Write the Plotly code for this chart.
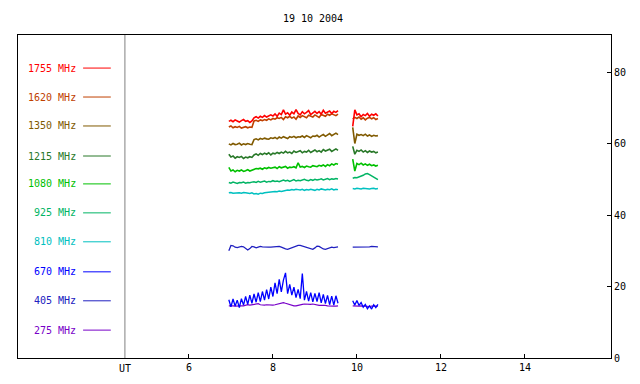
import plotly.graph_objects as go

TITLE = "19 10 2004"
FREQS = ["1755 MHz", "1620 MHz", "1350 MHz", "1215 MHz", "1080 MHz",
         "925 MHz", "810 MHz", "670 MHz", "405 MHz", "275 MHz"]
COLORS = ["#ff0000", "#c04000", "#805a00", "#287828", "#00c000",
          "#00b464", "#00c0c0", "#0000ff", "#2020c0", "#7800c8"]
LEGEND_Y = [81.1, 73.0, 64.9, 56.5, 48.7, 40.6, 32.5, 24.1, 16.0, 7.8]
X_TICKS = [6, 8, 10, 12, 14]
Y_TICKS = [0, 20, 40, 60, 80]

# sampling times (UT hours)
T1 = [6.95, 7.00, 7.05, 7.10, 7.15, 7.20, 7.25, 7.30, 7.35, 7.40, 7.45, 7.50,
      7.55, 7.60, 7.65, 7.70, 7.75, 7.80, 7.85, 7.90, 7.95, 8.00, 8.05, 8.10,
      8.15, 8.20, 8.25, 8.30, 8.35, 8.40, 8.45, 8.50, 8.55, 8.60, 8.65, 8.70,
      8.75, 8.80, 8.85, 8.90, 8.95, 9.00, 9.05, 9.10, 9.15, 9.20, 9.25, 9.30,
      9.35, 9.40, 9.45, 9.50, 9.55]
T2 = [9.90, 9.95, 10.00, 10.05, 10.10, 10.15, 10.20, 10.25, 10.30, 10.35,
      10.40, 10.45, 10.50]

F1755_A = [66.2, 66.5, 66.1, 66.6, 66.3, 66.0, 66.4, 66.7, 66.2, 66.4, 65.9, 66.3,
           67.2, 67.5, 67.1, 67.6, 67.3, 67.8, 67.4, 67.6, 68.0, 67.7, 68.3, 67.6,
           68.5, 68.1, 69.4, 68.2, 68.6, 67.9, 68.8, 68.3, 69.5, 68.4, 68.0, 68.9,
           68.3, 68.7, 69.2, 68.1, 68.6, 69.0, 68.4, 68.9, 68.2, 69.3, 68.5, 68.8,
           69.1, 68.4, 69.0, 68.7, 69.2]
F1755_B = [64.8, 69.4, 68.0, 68.3, 67.5, 68.1, 67.8, 68.4, 67.6, 68.2, 67.9, 68.3, 67.7]

F1620_A = [64.6, 64.9, 64.4, 64.7, 64.5, 64.8, 64.3, 64.6, 64.7, 64.4, 64.6, 64.5,
           66.3, 66.5, 66.2, 66.6, 66.4, 66.7, 66.5, 66.9, 66.6, 67.0, 66.8, 67.2,
           67.0, 67.3, 66.7, 67.5, 67.2, 67.6, 67.1, 67.4, 66.8, 67.7, 67.3, 67.8,
           67.5, 67.2, 67.9, 67.6, 67.4, 68.0, 67.7, 67.3, 68.1, 67.8, 67.6, 68.2,
           67.9, 68.3, 68.0, 67.8, 68.2]
F1620_B = [66.9, 67.3, 67.0, 67.4, 66.8, 67.2, 66.6, 67.1, 67.3, 66.9, 67.2, 66.7, 67.0]

F1350_A = [59.9, 59.6, 60.0, 59.7, 59.8, 60.1, 59.6, 59.9, 59.7, 60.0, 59.8, 59.7,
           61.1, 61.3, 61.0, 61.4, 61.2, 61.5, 61.3, 61.2, 61.6, 61.4, 61.7, 61.3,
           61.8, 61.5, 61.9, 61.6, 61.4, 61.9, 61.7, 62.0, 61.6, 61.9, 61.8, 62.1,
           61.7, 62.2, 61.9, 61.6, 62.1, 62.0, 62.3, 61.8, 62.2, 62.5, 62.0, 62.3,
           62.8, 62.2, 62.6, 62.9, 62.5]
F1350_B = [64.5, 60.0, 62.6, 62.3, 62.5, 62.2, 62.6, 62.1, 62.4, 62.0, 62.3, 62.1, 62.2]

F1215_A = [57.0, 56.2, 56.5, 55.9, 56.3, 56.1, 56.4, 55.8, 56.2, 56.0, 56.3, 56.1,
           56.8, 57.1, 56.7, 57.2, 56.9, 57.3, 57.0, 57.4, 56.8, 57.3, 57.1, 57.5,
           57.2, 57.6, 57.3, 57.8, 57.4, 57.6, 57.2, 57.9, 57.5, 57.7, 58.0, 57.4,
           57.8, 57.6, 58.1, 57.5, 57.9, 58.2, 57.7, 58.0, 57.6, 58.3, 57.9, 58.1,
           58.4, 57.8, 58.2, 58.5, 58.1]
F1215_B = [59.2, 57.0, 58.1, 57.8, 58.2, 57.6, 58.0, 57.5, 57.9, 57.6, 57.8, 57.4, 57.6]

F1080_A = [53.3, 52.3, 52.6, 52.1, 52.5, 52.3, 52.6, 52.2, 52.4, 52.7, 52.3, 52.5,
           52.8, 53.0, 52.9, 53.1, 52.8, 53.2, 53.0, 53.3, 53.1, 53.2, 53.4, 53.0,
           53.5, 53.2, 53.3, 53.6, 53.1, 53.4, 53.3, 53.5, 53.2, 54.6, 53.4, 53.6,
           53.3, 53.7, 53.5, 53.4, 53.8, 53.6, 53.5, 53.9, 53.7, 54.0, 53.6, 54.1,
           53.8, 54.3, 54.0, 54.4, 54.2]
F1080_B = [55.6, 52.3, 54.4, 54.1, 54.5, 54.0, 54.3, 53.9, 54.2, 53.8, 54.0, 53.7, 53.9]

F925_A = [49.1, 48.9, 49.2, 49.0, 48.8, 49.1, 49.0, 49.2, 48.9, 49.1, 49.0, 49.2,
          49.3, 49.1, 49.4, 49.2, 49.3, 49.5, 49.2, 49.4, 49.3, 49.6, 49.4, 49.5,
          49.3, 49.6, 49.8, 49.5, 49.7, 49.4, 49.6, 49.9, 49.5, 49.7, 49.6, 49.8,
          50.0, 49.7, 49.6, 49.9, 49.7, 50.0, 49.8, 49.9, 50.1, 49.8, 50.0, 50.2,
          49.9, 50.1, 50.0, 50.2, 50.1]
F925_B = [50.3, 50.5, 50.4, 50.6, 50.8, 51.1, 51.5, 51.6, 51.3, 50.9, 50.5, 50.1, 49.9]

F810_A = [46.2, 46.3, 46.1, 46.2, 46.3, 46.2, 46.1, 46.3, 46.2, 46.1, 46.0, 46.2,
          45.9, 46.0, 45.8, 46.1, 46.0, 46.2, 46.3, 46.4, 46.3, 46.5, 46.6, 46.5,
          46.7, 46.6, 46.8, 46.9, 47.0, 46.9, 47.1, 47.0, 47.2, 47.1, 47.0, 47.2,
          46.9, 47.1, 47.0, 47.2, 47.1, 46.9, 47.2, 47.0, 47.3, 47.1, 47.0, 47.2,
          47.1, 47.3, 47.0, 47.2, 47.1]
F810_B = [47.4, 47.3, 47.5, 47.4, 47.3, 47.5, 47.4, 47.5, 47.3, 47.4, 47.5, 47.3, 47.4]

F670_A = [16.3, 14.3, 16.5, 14.5, 16.2, 14.1, 16.6, 14.8, 17.2, 15.0, 17.6, 15.3,
          17.9, 15.6, 18.3, 15.8, 18.6, 16.2, 19.1, 16.5, 19.8, 17.2, 21.0, 18.0,
          22.0, 18.5, 21.8, 23.8, 18.0, 20.6, 17.6, 19.8, 16.9, 19.2, 16.6, 23.6,
          16.2, 18.6, 15.9, 18.3, 15.7, 18.1, 15.8, 18.3, 15.4, 17.8, 15.2, 17.5,
          14.9, 17.3, 14.8, 17.4, 15.3]
F670_B = [16.0, 14.8, 16.1, 14.7, 15.5, 14.2, 15.0, 13.8, 14.6, 13.7, 14.9, 14.1, 15.0]

F405_A = [30.0, 31.5, 31.4, 31.0, 30.9, 31.1, 31.2, 31.1, 30.6, 30.2, 30.6, 31.2,
          31.1, 30.8, 31.0, 31.2, 31.1, 31.0, 31.1, 31.0, 31.0, 31.1, 31.0, 31.2,
          31.2, 31.0, 30.7, 30.5, 30.4, 30.6, 30.8, 31.1, 31.4, 31.5, 31.5, 31.3,
          31.0, 30.8, 30.6, 30.4, 30.4, 30.8, 31.3, 31.2, 30.8, 30.5, 30.4, 30.6,
          30.9, 31.0, 30.9, 31.1, 31.1]
F405_B = [31.0, 31.0, 30.9, 31.0, 31.0, 30.9, 31.0, 31.1, 31.1, 31.2, 31.2, 31.1, 31.1]

F275_A = [14.6, 14.7, 14.6, 14.5, 14.6, 14.7, 14.6, 14.6, 14.8, 14.9, 14.8, 14.9,
          15.1, 15.3, 15.2, 14.9, 14.8, 14.8, 14.9, 14.8, 14.7, 14.8, 14.9, 15.0,
          15.2, 15.4, 15.5, 15.3, 15.1, 14.9, 14.7, 14.6, 14.6, 14.8, 14.9, 15.0,
          15.1, 15.0, 14.9, 15.0, 15.1, 14.9, 14.8, 14.7, 14.7, 14.8, 14.7, 14.6,
          14.5, 14.6, 14.5, 14.5, 14.6]
F275_B = [14.6, 14.5, 14.6, 14.5, 14.6, 14.5, 14.4, 14.5, 14.4, 14.5, 14.6, 14.5, 14.5]

SERIES_A = [F1755_A, F1620_A, F1350_A, F1215_A, F1080_A, F925_A, F810_A, F670_A, F405_A, F275_A]
SERIES_B = [F1755_B, F1620_B, F1350_B, F1215_B, F1080_B, F925_B, F810_B, F670_B, F405_B, F275_B]
WIDTHS = [1.6, 1.6, 1.6, 1.6, 1.6, 1.5, 1.5, 1.3, 1.3, 1.2]

# axes geometry in data units
X_MIN, X_MAX = 1.93, 16.05
Y_MIN, Y_MAX = 0, 90.35
DIVIDER_X = 4.476
LEG_X0, LEG_X1 = 3.48, 4.14
LEG_TEXT_X = 3.37

FONT = "DejaVu Sans Mono, monospace"

fig = go.Figure()

for i in reversed(range(len(FREQS))):
    xs = T1 + [None] + T2
    ys = SERIES_A[i] + [None] + SERIES_B[i]
    fig.add_trace(go.Scatter(x=xs, y=ys, mode="lines", connectgaps=False,
                             line=dict(color=COLORS[i], width=WIDTHS[i]),
                             showlegend=False, hoverinfo="skip"))

for i, (lab, col, ly) in enumerate(zip(FREQS, COLORS, LEGEND_Y)):
    fig.add_trace(go.Scatter(x=[LEG_X0, LEG_X1], y=[ly, ly], mode="lines",
                             line=dict(color=col, width=1),
                             showlegend=False, hoverinfo="skip"))
    fig.add_annotation(x=LEG_TEXT_X, y=ly, text=lab, showarrow=False,
                       xanchor="right", yanchor="middle",
                       font=dict(family=FONT, size=10, color=col))

fig.add_shape(type="line", xref="x", yref="paper", x0=DIVIDER_X, x1=DIVIDER_X,
              y0=0, y1=1, line=dict(color="#808080", width=1))

fig.add_annotation(x=DIVIDER_X, xref="x", y=0, yref="paper", text="UT",
                   showarrow=False, xanchor="center", yanchor="top", yshift=-3,
                   font=dict(family=FONT, size=10, color="black"))

# page body has an 8px margin, so the figure is 8px smaller than the window
fig.update_layout(
    width=632, height=376,
    margin=dict(l=10, r=29, t=27, b=26),
    paper_bgcolor="white", plot_bgcolor="white",
    title=dict(text=TITLE, x=0.4826, xanchor="center", y=0.971, yanchor="middle",
               font=dict(family=FONT, size=10, color="black")),
    font=dict(family=FONT, size=10, color="black"),
    showlegend=False,
)
fig.update_xaxes(range=[X_MIN, X_MAX], tickvals=X_TICKS, ticktext=[str(v) for v in X_TICKS],
                 ticks="inside", ticklen=4, tickcolor="black", showgrid=False,
                 zeroline=False, showline=True, linecolor="black", linewidth=1,
                 mirror=True, tickfont=dict(family=FONT, size=10, color="black"))
fig.update_yaxes(range=[Y_MIN, Y_MAX], tickvals=Y_TICKS, side="right",
                 ticks="inside", ticklen=4, tickcolor="black", showgrid=False,
                 zeroline=False, showline=True, linecolor="black", linewidth=1,
                 mirror=True, tickfont=dict(family=FONT, size=10, color="black"))

fig.write_html("out.html")
